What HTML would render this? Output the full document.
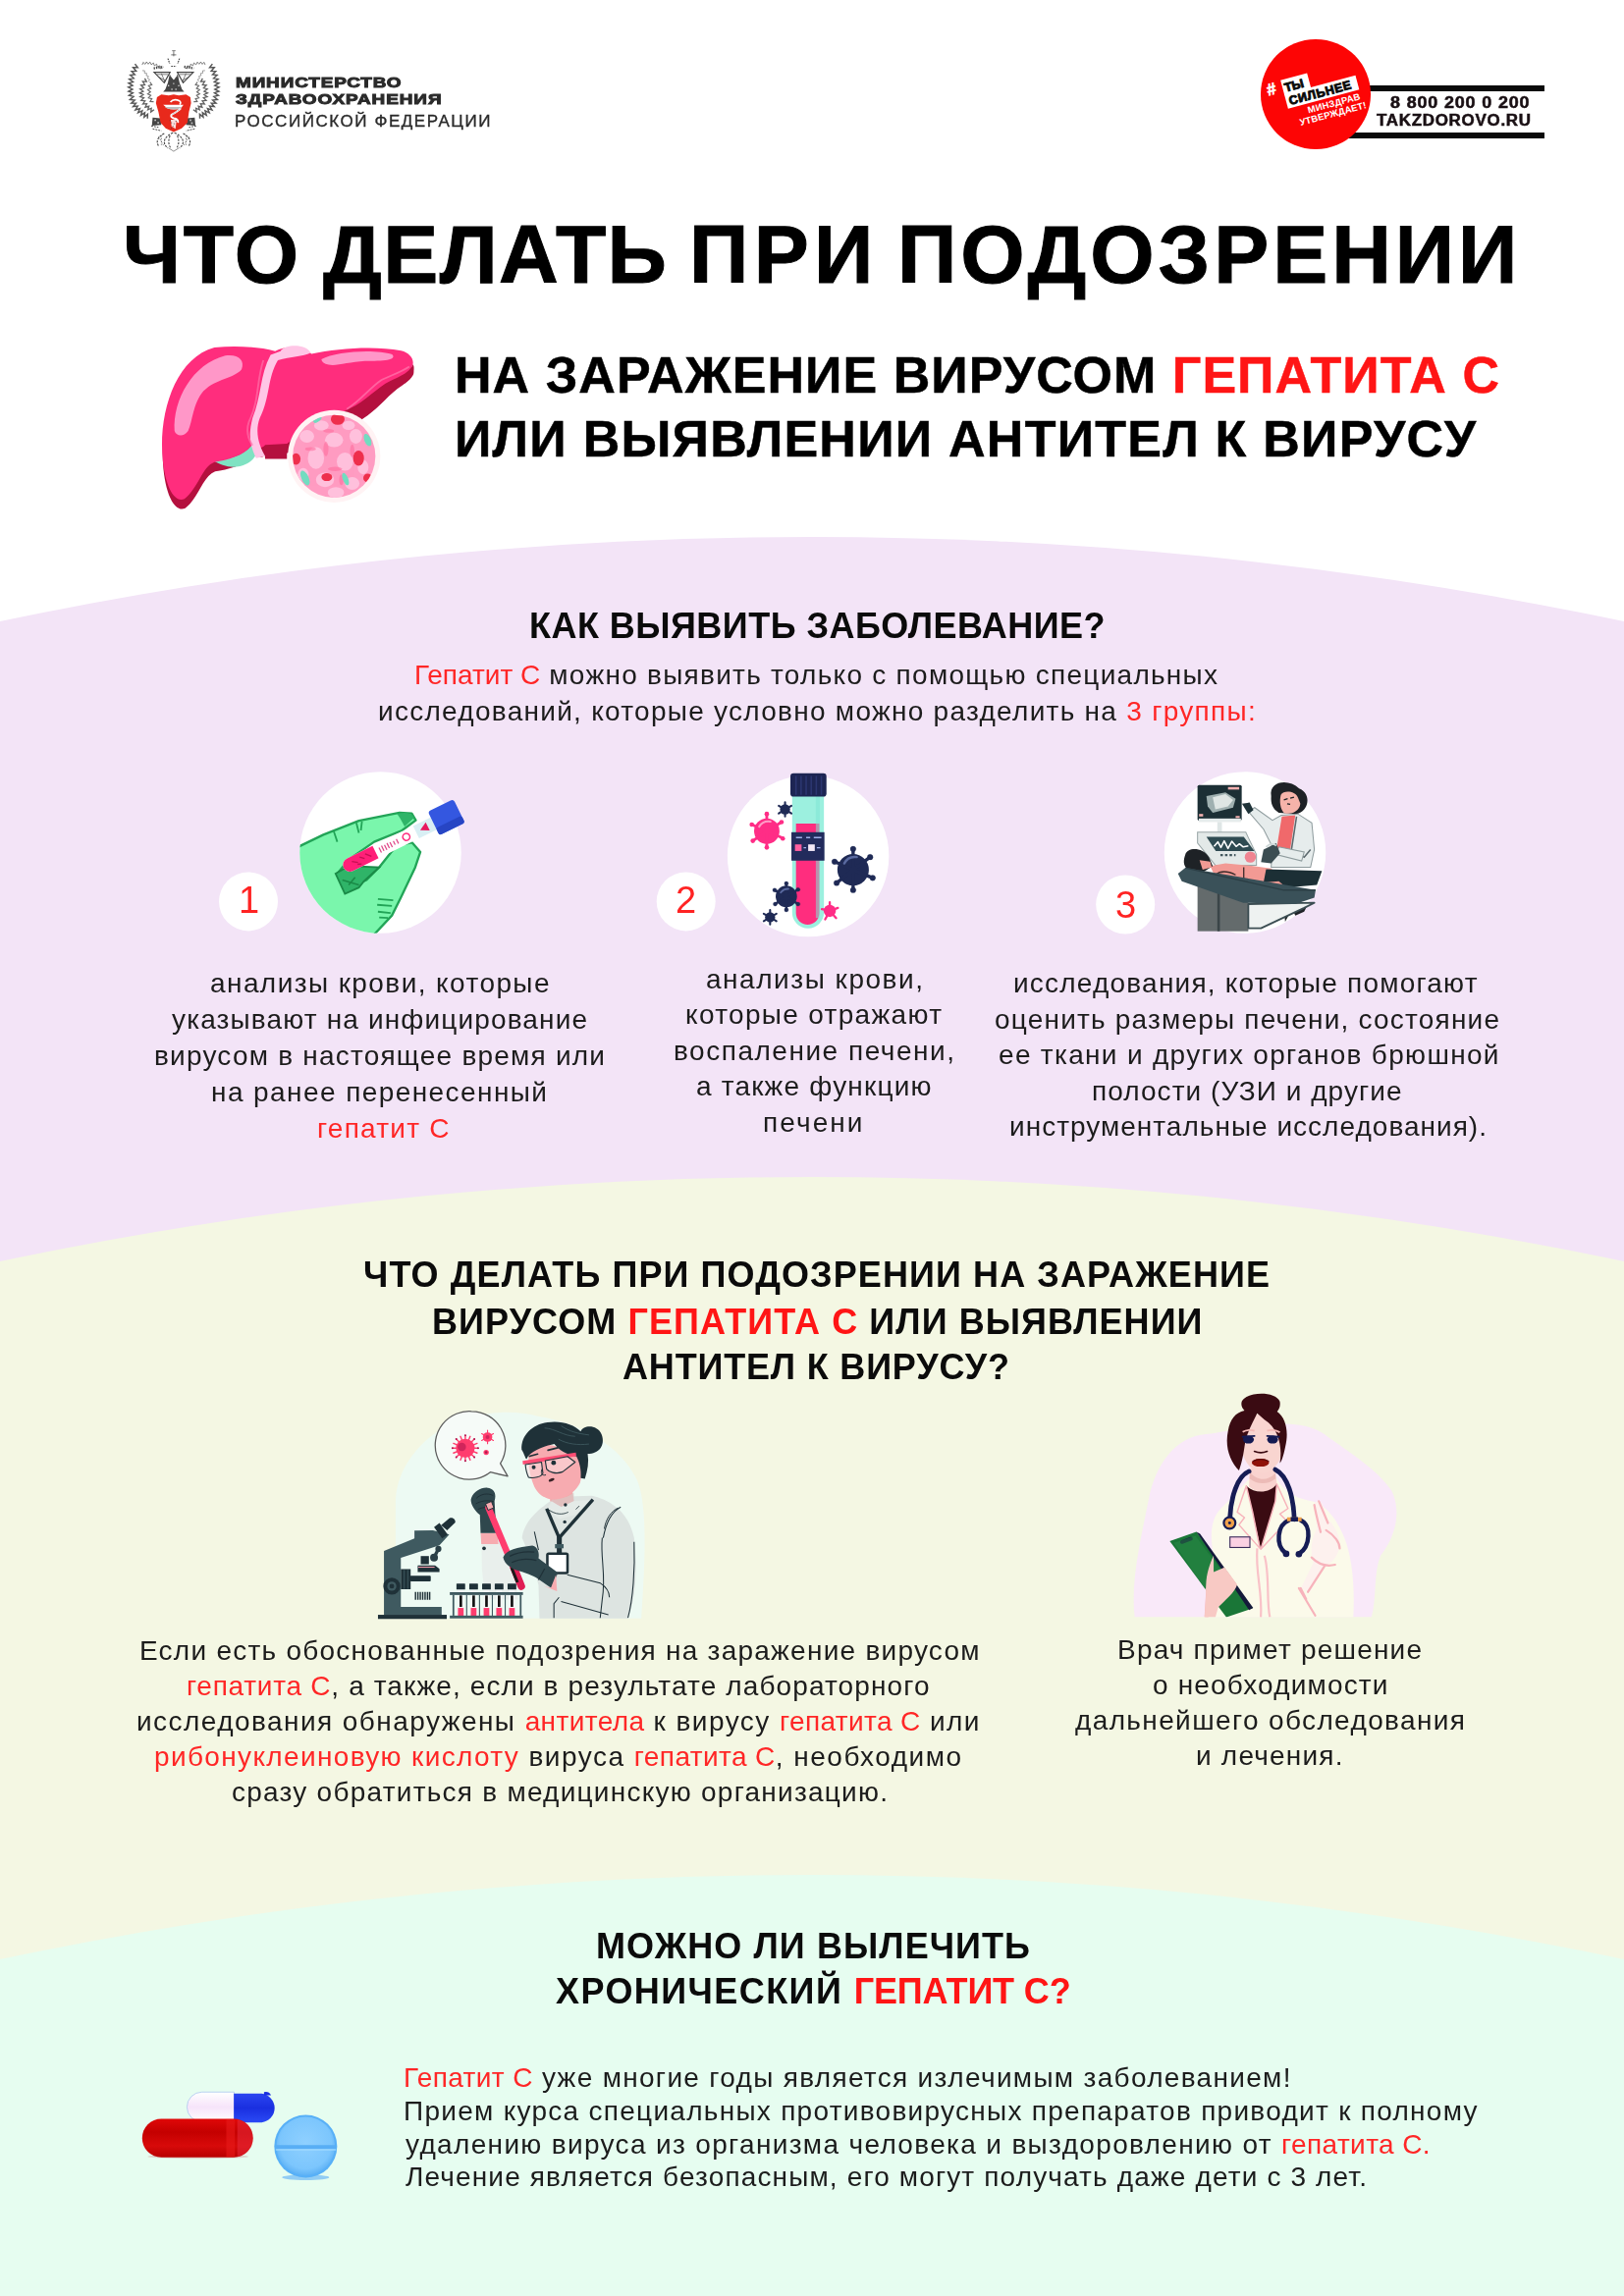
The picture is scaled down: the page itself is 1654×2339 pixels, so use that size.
<!DOCTYPE html>
<html lang="ru">
<head>
<meta charset="utf-8">
<title>Что делать при подозрении на заражение вирусом гепатита С</title>
<style>
html,body{margin:0;padding:0;background:#fff;}
body{width:1654px;height:2339px;position:relative;overflow:hidden;font-family:"Liberation Sans",sans-serif;color:#1c1c1c;}
.t{position:absolute;white-space:nowrap;line-height:1;transform-origin:0 50%;will-change:transform;}
.r{color:#ff2626;}
.t[style*=bold]{color:#0b0b0b;}
.t[style*=bold] .r{color:#ff1515;}
.b28 .r{letter-spacing:0.4px;}
svg{position:absolute;overflow:visible;}
.abs{position:absolute;}
</style>
</head>
<body>
<svg style="left:0;top:0" width="1654" height="2339" viewBox="0 0 1654 2339">
<circle cx="827" cy="4566" r="4019" fill="#f3e4f7"/>
<circle cx="827" cy="5218" r="4019" fill="#f4f7e3"/>
<circle cx="827" cy="5929" r="4019" fill="#e6fdf0"/>
</svg>

<svg style="left:120px;top:40px" width="120" height="125" viewBox="0 0 1624 1692">
<g fill="none" stroke="#454545" stroke-linejoin="miter">
<path d="M236 340 L274 390 L211 390 L252 439 L190 442 L234 488 L172 495 L219 538 L158 550 L209 588 L149 605 L203 638 L145 661 L202 689 L147 718 L207 740 L154 774 L216 790 L168 831 L232 840 L187 881 L250 882 L211 928 L274 921 L242 974 L303 956 L279 1013 L336 987 L319 1046 L372 1012 L363 1073 L411 1033 L409 1094" stroke-width="20" opacity="0.9"/>
<path d="M1304 340 L1266 390 L1329 390 L1288 439 L1350 442 L1306 488 L1368 495 L1321 538 L1382 550 L1331 588 L1391 605 L1337 638 L1395 661 L1338 689 L1393 718 L1333 740 L1386 774 L1324 790 L1372 831 L1308 840 L1353 881 L1290 882 L1329 928 L1266 921 L1298 974 L1237 956 L1261 1013 L1204 987 L1221 1046 L1168 1012 L1177 1073 L1129 1033 L1131 1094" stroke-width="20" opacity="0.9"/>
<path d="M371 539 L396 584 L343 582 L372 628 L320 633 L357 673 L307 686 L350 718 L302 740 L350 764 L307 793 L359 808 L322 844 L375 850 L345 892 L399 889 L378 937 L429 924 L414 973 L462 951 L456 1002 L500 971" stroke-width="18" opacity="0.85"/>
<path d="M1169 539 L1144 584 L1197 582 L1168 628 L1220 633 L1183 673 L1233 686 L1190 718 L1238 740 L1190 764 L1233 793 L1181 808 L1218 844 L1165 850 L1195 892 L1141 889 L1162 937 L1111 924 L1126 973 L1078 951 L1084 1002 L1040 971" stroke-width="18" opacity="0.85"/>
<path d="M442 589 L469 628 L424 640 L455 677 L413 695 L450 727 L412 753 L454 775 L423 808 L469 821 L446 859 L494 861" stroke-width="16" opacity="0.8"/>
<path d="M1098 589 L1071 628 L1116 640 L1085 677 L1127 695 L1090 727 L1128 753 L1086 775 L1117 808 L1071 821 L1094 859 L1046 861" stroke-width="16" opacity="0.8"/>
<path d="M336 353 L350 317 L378 344 L396 311 L419 343 L443 314 L461 350 L491 326 L504 364 L536 343 L544 381 L578 365 L584 405 L621 392" stroke-width="13" opacity="0.7"/>
<path d="M1204 353 L1190 317 L1162 344 L1144 311 L1121 343 L1097 314 L1079 350 L1049 326 L1036 364 L1004 343 L996 381 L962 365 L956 405 L919 392" stroke-width="13" opacity="0.7"/>
<path d="M337 432 L370 433 L368 466 L399 470 L392 501 L423 510 L411 540 L440 554 L422 582" stroke-width="11" opacity="0.6"/>
<path d="M1203 432 L1170 433 L1172 466 L1141 470 L1148 501 L1117 510 L1129 540 L1100 554 L1118 582" stroke-width="11" opacity="0.6"/>
  <path d="M500 455 L720 455 L640 600 Z M1040 455 L820 455 L900 600 Z" stroke-width="16"/>
  <path d="M540 485 L690 485 M850 485 L1000 485 M560 520 L650 565 M980 520 L890 565 M600 470 L650 590 M940 470 L890 590" stroke-width="9"/>
  <path d="M690 265 L715 335 M850 265 L825 335 M735 372 L805 372" stroke-width="16" stroke-dasharray="22 12"/>
  <path d="M770 165 L770 235 M748 158 L795 158 M735 215 L805 215" stroke-width="10"/>
  <path d="M495 400 L625 378 M915 378 L1045 400" stroke-width="30" stroke-dasharray="18 14"/>
  <path d="M760 1290 C640 1340 600 1430 690 1500 M780 1290 C900 1340 940 1430 850 1500 M720 1330 C690 1400 700 1460 730 1500 M820 1330 C850 1400 840 1460 810 1500 M640 1300 C560 1340 520 1400 560 1470 M900 1300 C980 1340 1020 1400 980 1470" stroke-width="15" stroke-dasharray="30 16"/>
  <path d="M560 1340 L640 1480 M980 1340 L900 1480 M600 1320 L600 1460 M940 1320 L940 1460" stroke-width="12" stroke-dasharray="22 18" opacity=".7"/>
  <path d="M700 1500 L770 1545 L840 1500" stroke-width="8"/>
  <path d="M460 1195 L560 1215 M1080 1195 L980 1215 M480 1235 L600 1262 M1060 1235 L940 1262" stroke-width="13" stroke-dasharray="26 14"/>
</g>
<path d="M625 725 L655 690 L690 600 L715 480 L770 560 L825 480 L850 600 L885 690 L915 725 Z" fill="#454545"/>
<path d="M722 500 L770 430 L818 500 L770 558 Z" fill="#fff"/>
<g fill="#fff"><circle cx="700" cy="640" r="9"/><circle cx="745" cy="690" r="9"/><circle cx="800" cy="690" r="9"/><circle cx="840" cy="640" r="9"/><circle cx="770" cy="610" r="9"/></g>
<path d="M480 1080 L590 1090 L600 1180 L470 1190 Z M1060 1080 L950 1090 L940 1180 L1070 1190 Z" fill="#454545"/>
<g fill="#fff" opacity=".7"><rect x="505" y="1105" width="22" height="22"/><rect x="545" y="1140" width="22" height="22"/><rect x="990" y="1105" width="22" height="22"/><rect x="1010" y="1145" width="22" height="22"/></g>
<path d="M540 800 L600 760 L700 775 L770 760 L840 775 L940 760 L1000 800 L1010 880 L980 1000 L960 1150 L880 1230 L770 1280 L660 1230 L590 1150 L560 1000 L525 880 Z" fill="#e8291c"/>
<path d="M625 905 L905 905 L870 950 Q770 985 680 950 Z" fill="#fff"/>
<path d="M645 935 L885 935 L868 952 Q770 985 674 952 Z" fill="#bdbdbd"/>
<path d="M725 865 Q770 810 850 850 Q880 880 850 900" fill="none" stroke="#fff" stroke-width="22"/>
<path d="M860 960 Q800 1010 740 1040 Q720 1075 770 1090 Q830 1100 830 1140" fill="none" stroke="#fff" stroke-width="26" stroke-linecap="round"/>
<path d="M860 960 Q800 1010 740 1040" fill="none" stroke="#454545" stroke-width="7" stroke-dasharray="16 12"/>
<path d="M730 1110 L810 1110 L795 1235 L740 1200 Z" fill="#fff" opacity=".85"/>
<g fill="#454545"><circle cx="740" cy="1150" r="7"/><circle cx="775" cy="1165" r="7"/><circle cx="760" cy="1200" r="7"/><circle cx="720" cy="1120" r="7"/><circle cx="800" cy="1130" r="7"/><circle cx="740" cy="1225" r="7"/></g>
</svg>
<div class="abs" style="left:1340px;top:87px;width:233px;height:6px;background:#0a0a0a"></div>
<div class="abs" style="left:1340px;top:135px;width:233px;height:6px;background:#0a0a0a"></div>
<div class="abs" style="left:1284.2px;top:40.1px;width:111.6px;height:111.6px;border-radius:50%;background:#fd0505"></div>
<div class="abs" style="left:1284.2px;top:40.1px;width:111.6px;height:111.6px;transform:rotate(-15deg);font-weight:bold;line-height:1;white-space:nowrap">
  <div class="abs" style="left:9px;top:31px;font-size:17px;color:#fff;-webkit-text-stroke:0.6px #fff">#</div>
  <div class="abs" style="left:25px;top:33.4px;width:28px;height:16px;background:#fff"></div>
  <div class="abs" style="left:25px;top:48.4px;width:75px;height:15px;background:#fff"></div>
  <div class="abs" style="left:27px;top:35.5px;font-size:12.5px;color:#0a0a0a;letter-spacing:-0.2px;-webkit-text-stroke:0.9px #0a0a0a">ТЫ</div>
  <div class="abs" style="left:28px;top:49.8px;font-size:12.5px;color:#0a0a0a;letter-spacing:0.6px;-webkit-text-stroke:0.9px #0a0a0a">СИЛЬНЕЕ</div>
  <div class="abs" style="left:44px;top:64.5px;font-size:9.5px;color:#fff;letter-spacing:0.2px">МИНЗДРАВ</div>
  <div class="abs" style="left:33px;top:75px;font-size:9.5px;color:#fff;letter-spacing:0.1px">УТВЕРЖДАЕТ!</div>
</div>

<svg style="left:150px;top:330px" width="300" height="200" viewBox="0 0 1624 1083">
<defs>
<path id="lv" d="M370 130 C500 118 620 128 705 150 C760 120 860 118 905 165 C1050 135 1250 118 1400 148 C1450 160 1475 200 1462 230 C1440 270 1400 285 1370 300 C1290 330 1230 400 1150 450 C1050 505 900 560 770 660 L650 668 C630 690 610 690 585 650 C560 720 450 750 370 762 C300 790 285 900 205 965 C150 990 100 900 85 750 C60 500 150 190 370 130 Z"/>
<clipPath id="lvc"><circle cx="1030" cy="730" r="228"/></clipPath>
</defs>
<use href="#lv" transform="translate(4,52)" fill="#b4103e"/>
<path d="M640 650 L770 650 L770 745 L650 745 Z" fill="#b4103e"/>
<path d="M1466 222 C1482 262 1455 305 1405 340 C1335 385 1285 455 1215 505 L1150 550 L1090 500 L1150 450 C1230 400 1290 330 1370 300 C1400 285 1440 270 1462 230Z" fill="#b4103e"/>
<path d="M360 750 C440 810 560 800 600 720 L590 640 C560 720 450 750 360 750Z" fill="#7fe2c2"/>
<use href="#lv" fill="#ff2d7d"/>
<path d="M150 590 C140 420 250 220 430 175 C500 165 540 200 520 250 C480 300 380 300 310 370 C250 440 250 540 225 590 C200 625 160 620 150 590Z" fill="#ff97c8"/>
<path d="M960 195 C1040 150 1260 138 1350 168 C1380 200 1300 205 1200 205 C1110 210 1040 235 1000 225 C975 220 962 210 960 195Z" fill="#ff97c8"/>
<path d="M1100 470 C1180 420 1230 350 1290 310 C1340 285 1400 265 1445 235" fill="none" stroke="#ff6fa8" stroke-width="10" opacity=".8"/>
<path d="M735 150 C760 110 880 110 900 160 C860 180 790 180 720 200 C660 300 680 400 620 520 C590 600 620 680 650 730 L600 740 C560 660 560 600 580 520 C630 400 620 280 680 170 Z" fill="#ffc6e6"/>
<path d="M640 200 C600 320 620 420 560 540 C540 600 560 640 580 670" fill="none" stroke="#ff6fa8" stroke-width="10" opacity=".7"/>
<circle cx="1030" cy="730" r="255" fill="#fff3f4"/>
<circle cx="1030" cy="730" r="228" fill="#ff9cc2"/>
<g clip-path="url(#lvc)">
<g fill="#ffc0dc">
<ellipse cx="930" cy="740" rx="45" ry="60"/><ellipse cx="1030" cy="640" rx="50" ry="40"/><ellipse cx="1090" cy="760" rx="45" ry="50"/><ellipse cx="980" cy="860" rx="50" ry="40"/><ellipse cx="1130" cy="880" rx="40" ry="35"/><ellipse cx="880" cy="620" rx="40" ry="35"/><ellipse cx="1150" cy="620" rx="35" ry="40"/><ellipse cx="1040" cy="930" rx="45" ry="30"/><ellipse cx="1190" cy="790" rx="30" ry="40"/><ellipse cx="960" cy="560" rx="40" ry="28"/><ellipse cx="860" cy="830" rx="30" ry="35"/><ellipse cx="1110" cy="560" rx="35" ry="25"/>
</g>
<g fill="#ff6a9c" opacity=".55">
<ellipse cx="985" cy="690" rx="14" ry="40"/><ellipse cx="1035" cy="800" rx="40" ry="12"/><ellipse cx="1130" cy="700" rx="12" ry="35"/><ellipse cx="900" cy="690" rx="30" ry="10"/><ellipse cx="1070" cy="860" rx="12" ry="30"/><ellipse cx="1000" cy="590" rx="30" ry="10"/>
</g>
<g fill="#ee2f4c">
<ellipse cx="1050" cy="525" rx="38" ry="32"/><ellipse cx="1165" cy="740" rx="30" ry="42"/><ellipse cx="820" cy="745" rx="25" ry="32"/><ellipse cx="990" cy="845" rx="30" ry="22"/><ellipse cx="1215" cy="850" rx="24" ry="24"/>
</g>
<g fill="#72dcc0">
<ellipse cx="938" cy="527" rx="26" ry="13" transform="rotate(-35 938 527)"/><ellipse cx="1215" cy="640" rx="18" ry="36" transform="rotate(-22 1215 640)"/><ellipse cx="870" cy="850" rx="20" ry="44" transform="rotate(-25 870 850)"/><ellipse cx="1093" cy="856" rx="15" ry="36" transform="rotate(-22 1093 856)"/>
</g>
</g>
</svg>

<!-- icon 1 -->
<svg style="left:200px;top:780px" width="420" height="200" viewBox="0 0 1624 773">
<defs><clipPath id="c1"><circle cx="725" cy="342" r="318"/></clipPath></defs>
<circle cx="725" cy="342" r="318" fill="#fff"/>
<circle cx="205" cy="535" r="116" fill="#fff"/>
<g clip-path="url(#c1)">
<path d="M380 330 L500 272 L640 217 L800 185 L848 188 L864 215 L810 255 L700 300 L600 370 L555 425 L600 480 L670 450 L720 400 L790 312 L850 303 L882 340 L862 400 L805 520 L770 590 L700 665 L380 720 Z" fill="#7af6ac" stroke="#22a457" stroke-width="9" stroke-linejoin="round"/>
<path d="M548 425 L600 395 L720 400 L660 455 L640 480 L585 505 Z" fill="#2fb468" stroke="#1a8a47" stroke-width="7"/>
<path d="M575 450 L640 470 M600 470 L625 440" stroke="#1a8a47" stroke-width="6" fill="none"/>
<path d="M540 255 L555 300 M630 225 L640 265 M652 220 L648 255" stroke="#22a457" stroke-width="7" fill="none"/>
<path d="M790 190 Q840 175 858 205 L820 240 Q800 200 790 190Z" fill="#2fb468"/>
<path d="M715 525 L775 530 M712 548 L770 552 M715 575 L765 580 M720 598 L755 600" stroke="#22a457" stroke-width="7" fill="none"/>
</g>
<g transform="translate(580,402) rotate(-26.2)">
<rect x="0" y="-27" width="410" height="54" rx="27" fill="#fff"/>
<rect x="318" y="-27" width="90" height="54" fill="#d9eff4"/>
<path d="M0 0 A27 27 0 0 1 27 -27 L140 -27 L140 27 L27 27 A27 27 0 0 1 0 0Z" fill="#ff1f78"/>
<path d="M40 -8 L60 6 M75 -10 L90 4 M100 -12 L118 8 M55 12 L70 18" stroke="#c40f52" stroke-width="5"/>
<path d="M160 -10 L160 12 M172 -12 L172 10 M184 -10 L184 12 M196 -12 L196 10 M208 -10 L208 12 M222 -8 L222 8 M236 -10 L236 10" stroke="#e04a8a" stroke-width="5"/>
<circle cx="275" cy="0" r="14" fill="none" stroke="#ff2d7e" stroke-width="6"/>
<path d="M335 -18 L368 0 L335 18 Z" fill="#e8195f" transform="rotate(180 352 0)"/>
<rect x="395" y="-52" width="112" height="104" rx="12" fill="#3457e0"/>
<rect x="395" y="20" width="112" height="32" rx="10" fill="#2745c4"/>
</g>
</svg>
<!-- icon 2 -->
<svg style="left:640px;top:780px" width="420" height="200" viewBox="0 0 1624 773">
<circle cx="708" cy="356" r="318" fill="#fff"/>
<circle cx="227" cy="535" r="116" fill="#fff"/>
<path d="M645 110 L770 110 L770 578 A62.5 62.5 0 0 1 645 578 Z" fill="#9cf0df"/>
<path d="M660 228 L752 228 L752 580 A46 46 0 0 1 660 580 Z" fill="#ff2d7e"/>
<rect x="738" y="120" width="16" height="480" fill="#7fe6d4" opacity=".55"/>
<rect x="638" y="30" width="142" height="92" rx="12" fill="#1d2553"/>
<path d="M660 40 V115 M680 40 V115 M700 40 V115 M720 40 V115 M740 40 V115 M760 40 V115" stroke="#2c3670" stroke-width="6"/>
<rect x="642" y="262" width="130" height="112" fill="#222b5c"/>
<rect x="656" y="310" width="26" height="26" fill="#ff5fa0"/><rect x="708" y="310" width="26" height="26" fill="#f3e9f7"/>
<path d="M660 283 H684 M700 283 H716 M730 283 H760 M690 323 H700 M742 323 H756" stroke="#9fb0e8" stroke-width="5"/>
<g id="vr">
<g fill="#ff2d86">
<circle cx="545" cy="258" r="50"/>
<g stroke="#ff2d86" stroke-width="11" stroke-linecap="round">
<path d="M545 258 L545 190 M545 258 L603 222 M545 258 L608 285 M545 258 L545 322 M545 258 L490 296 M545 258 L486 232"/></g>
<circle cx="545" cy="190" r="9"/><circle cx="603" cy="222" r="9"/><circle cx="608" cy="287" r="9"/><circle cx="545" cy="322" r="9"/><circle cx="490" cy="296" r="9"/><circle cx="486" cy="232" r="9"/>
</g>
<path d="M515 240 Q530 215 560 220" stroke="#ff9cc6" stroke-width="8" fill="none" stroke-linecap="round"/>
</g>
<g fill="#ff2d86"><circle cx="793" cy="572" r="24"/><g stroke="#ff2d86" stroke-width="9" stroke-linecap="round"><path d="M793 572 L793 538 M793 572 L825 560 M793 572 L818 600 M793 572 L775 605 M793 572 L762 565"/></g></g>
<g fill="#1f2a55" stroke="#1f2a55" stroke-linecap="round">
<circle cx="885" cy="410" r="62" stroke="none"/>
<path d="M885 410 L885 328 M885 410 L952 360 M885 410 L962 442 M885 410 L885 490 M885 410 L820 462 M885 410 L812 378" stroke-width="13"/>
<circle cx="885" cy="328" r="11"/><circle cx="952" cy="360" r="11"/><circle cx="962" cy="442" r="11"/><circle cx="885" cy="490" r="11"/><circle cx="820" cy="462" r="11"/><circle cx="812" cy="378" r="11"/>
<circle cx="622" cy="515" r="42" stroke="none"/>
<path d="M622 515 L622 462 M622 515 L668 488 M622 515 L668 545 M622 515 L622 568 M622 515 L578 545 M622 515 L576 490" stroke-width="10"/>
<circle cx="622" cy="464" r="8"/><circle cx="668" cy="488" r="8"/><circle cx="668" cy="545" r="8"/><circle cx="622" cy="568" r="8"/><circle cx="578" cy="545" r="8"/><circle cx="576" cy="490" r="8"/>
<circle cx="617" cy="172" r="20" stroke="none"/>
<path d="M617 172 L617 144 M617 172 L642 158 M617 172 L642 188 M617 172 L617 200 M617 172 L592 188 M617 172 L592 158" stroke-width="8"/>
<circle cx="558" cy="597" r="20" stroke="none"/>
<path d="M558 597 L558 568 M558 597 L583 583 M558 597 L583 612 M558 597 L558 625 M558 597 L533 612 M558 597 L533 583" stroke-width="8"/>
</g>
<path d="M850 385 Q865 355 900 360" stroke="#5a6aa0" stroke-width="9" fill="none" stroke-linecap="round"/>
<path d="M600 500 Q610 485 630 485" stroke="#5a6aa0" stroke-width="7" fill="none" stroke-linecap="round"/>
</svg>
<!-- icon 3 -->
<svg style="left:1080px;top:780px" width="420" height="200" viewBox="0 0 1624 773">
<circle cx="727" cy="342" r="318" fill="#fff"/>
<circle cx="256" cy="547" r="116" fill="#fff"/>
<!-- doctor -->
<path d="M830 120 C820 60 900 50 940 90 C990 110 980 180 930 190 L860 185 C835 170 828 150 830 120Z" fill="#1e2226"/>
<path d="M868 115 C880 95 925 100 935 125 L945 150 C940 185 900 195 880 185 C865 170 862 140 868 115Z" fill="#f6b3aa"/>
<path d="M880 135 L895 130 M905 128 L920 124 M893 150 L905 152" stroke="#1e2226" stroke-width="5"/>
<path d="M870 195 L935 190 L990 225 L1000 330 L985 400 L830 400 L835 320 L800 250 L740 180 L765 165 L835 215 Z" fill="#e6ecec" stroke="#8f9c9e" stroke-width="4"/>
<path d="M872 200 L925 195 L905 330 L850 335 Z" fill="#f0696b"/>
<path d="M930 200 L910 330 L960 360 L985 330" fill="none" stroke="#5d6a6e" stroke-width="6"/>
<path d="M715 150 L745 145 L760 175 L740 190 Z" fill="#1e3238"/>
<path d="M860 320 L960 340 L950 375 L850 350 Z" fill="#e6ecec" stroke="#8f9c9e" stroke-width="4"/>
<path d="M800 330 L850 305 L865 345 L830 385 L790 380 Z" fill="#3b4d52"/>
<path d="M810 320 Q830 300 850 315" fill="none" stroke="#cfd8d8" stroke-width="7"/>
<path d="M905 545 L975 545 L960 575 L925 590 Z" fill="#1e2226"/>
<path d="M880 560 L915 560 L885 615 Z" fill="#1e2226"/>
<!-- monitor -->
<rect x="540" y="76" width="174" height="140" rx="6" fill="#1c2f35"/>
<path d="M575 120 L650 105 L690 130 L680 165 L600 185 L580 160 Z" fill="#9fb0b0"/>
<path d="M600 125 L650 112 L680 135 L660 160 L610 172 Z" fill="#dfe6e4"/>
<rect x="660" y="84" width="44" height="10" fill="#f2b0b0"/><rect x="546" y="190" width="16" height="10" fill="#f2b0b0"/><rect x="690" y="198" width="16" height="8" fill="#f2b0b0"/>
<rect x="545" y="208" width="166" height="14" fill="#e6ecec"/>
<rect x="618" y="222" width="18" height="40" fill="#dfe6e6"/>
<!-- console -->
<path d="M540 262 L730 262 L772 350 L772 392 L610 392 L540 305 Z" fill="#e3e9e8" stroke="#9aa7a8" stroke-width="4"/>
<path d="M575 280 L722 280 L764 336 L612 336 Z" fill="#2f4b52"/>
<path d="M605 318 L620 300 L632 322 L645 296 L660 326 L675 298 L692 318 L705 308 L720 320 L740 316" fill="none" stroke="#fff" stroke-width="6" stroke-linejoin="round"/>
<path d="M630 352 H690" stroke="#43585e" stroke-width="9" stroke-dasharray="10 8"/>
<circle cx="748" cy="360" r="22" fill="#f36a7a" opacity=".8"/>
<!-- bed base -->
<rect x="540" y="470" width="200" height="182" fill="#646b6c"/>
<rect x="618" y="480" width="10" height="172" fill="#3b4548"/>
<path d="M740 545 L1000 540 L960 560 L790 640 L740 640 Z" fill="#eef2f1" stroke="#3b4d52" stroke-width="7" stroke-linejoin="round"/>
<!-- patient -->
<path d="M590 395 L650 385 L760 395 L830 405 L880 450 L900 480 L720 470 L610 440 Z" fill="#f29a94"/>
<path d="M610 430 Q640 405 690 430 M722 400 L722 445" fill="none" stroke="#3b2a2a" stroke-width="5"/>
<path d="M810 408 L1030 415 L1010 470 L890 480 L860 455 L800 460 Z" fill="#1c2f35"/>
<path d="M492 350 C500 320 560 320 585 360 L600 395 L560 420 L505 410 C480 395 485 370 492 350Z" fill="#1e2226"/>
<path d="M548 372 L590 378 L596 400 L560 410 Z" fill="#f29a94"/>
<!-- bed slab -->
<path d="M463 425 L492 402 L1005 490 L1000 520 L925 545 L720 540 L478 455 Z" fill="#3a5159"/>
<path d="M492 402 L560 418 L880 490 L1005 490" fill="none" stroke="#2b3e45" stroke-width="5"/>
</svg>
<div class="t" style="left:242.5px;top:898px;font-size:38px;color:#ff2323">1</div>
<div class="t" style="left:687.5px;top:897.5px;font-size:38px;color:#ff2323">2</div>
<div class="t" style="left:1136px;top:903px;font-size:38px;color:#ff2323">3</div>

<svg style="left:0;top:0" width="1654" height="2339" viewBox="0 0 1654 2339">
<!-- coords: zoom1 = (360,1420) scale 4.776 -->
<g transform="translate(360,1420) scale(0.20938)">
  <path d="M205 1092 L205 520 C210 380 300 250 430 170 C560 90 760 70 900 110 C1100 140 1300 250 1380 420 C1430 540 1420 800 1400 1092 Z" fill="#edfaf3"/>
  <!-- raised arm sleeve (white part) -->
  <path d="M622 690 L700 690 L745 800 L790 905 L800 1000 L640 1000 L625 850 Z" fill="#e9efec"/>
  <!-- coat body -->
  <path d="M905 1092 L900 930 L870 820 L820 700 C830 620 900 560 960 520 L1000 500 L1160 495 C1260 520 1340 580 1365 700 C1380 820 1380 980 1335 1092 Z" fill="#dde4e1"/>
  <path d="M1215 700 C1230 620 1260 570 1300 550 M1210 700 C1200 800 1230 880 1210 1000 L1200 1090 M1365 720 C1370 850 1360 1000 1335 1090" fill="none" stroke="#1f3138" stroke-width="5"/>
  <path d="M880 670 L900 760 M975 1090 L975 1020 L1000 990 M1010 1010 L1240 1075 M1040 880 L1200 920 C1230 940 1245 960 1245 990" fill="none" stroke="#1f3138" stroke-width="5"/>
</g>
<!-- zoom2 = (430,1430) scale 7.061 -->
<g transform="translate(430,1430) scale(0.14162)">
  <!-- speech bubble -->
  <path d="M355 55 A245 245 0 1 0 490 492 L615 522 L562 430 A245 245 0 0 0 355 55Z" fill="#f6fbf8" stroke="#5c5c5c" stroke-width="9" stroke-linejoin="round"/>
  <g fill="#ff3d6e">
    <circle cx="310" cy="320" r="68"/><circle cx="470" cy="240" r="34"/><circle cx="460" cy="350" r="19"/>
    <g stroke="#ff3d6e" stroke-width="10" stroke-linecap="round">
      <path d="M310 320 L310 228 M310 320 L375 255 M310 320 L402 320 M310 320 L375 385 M310 320 L310 412 M310 320 L245 385 M310 320 L218 320 M310 320 L245 255 M310 320 L345 235 M310 320 L395 285 M310 320 L395 355 M310 320 L345 405 M310 320 L275 405 M310 320 L225 355 M310 320 L225 285 M310 320 L275 235"/>
      <path d="M470 240 L470 192 M470 240 L512 216 M470 240 L512 264 M470 240 L470 288 M470 240 L428 264 M470 240 L428 216" stroke-width="8"/>
    </g>
  </g>
  <g fill="#b0164e"><circle cx="310" cy="228" r="7"/><circle cx="375" cy="255" r="7"/><circle cx="402" cy="320" r="7"/><circle cx="375" cy="385" r="7"/><circle cx="310" cy="412" r="7"/><circle cx="245" cy="385" r="7"/><circle cx="218" cy="320" r="7"/><circle cx="245" cy="255" r="7"/><circle cx="285" cy="310" r="30" opacity=".6"/><circle cx="460" cy="350" r="9"/><circle cx="470" cy="240" r="14" opacity=".6"/></g>
  <!-- neck + face -->
  <path d="M915 600 L1075 580 L1090 700 L1000 740 L920 700 Z" fill="#f3a9ab"/>
  <path d="M765 345 C800 290 900 280 1000 320 L1120 370 C1160 420 1150 520 1135 570 C1100 640 1020 690 950 690 C880 690 820 640 800 580 C775 520 760 420 765 345Z" fill="#f7abb0"/>
  <path d="M930 690 C990 690 1050 670 1090 640 L1090 700 L1000 740 L925 705Z" fill="#d9c9c6" opacity=".7"/>
  <!-- hair -->
  <path d="M715 330 C710 230 790 150 900 135 C1000 120 1090 150 1140 200 C1160 150 1260 150 1290 220 C1320 300 1270 360 1190 360 C1200 420 1190 480 1170 540 L1140 535 C1145 470 1130 420 1110 380 C1040 370 980 330 950 290 C900 300 800 330 760 380 C745 420 745 380 715 330Z" fill="#1f3138"/>
  <path d="M880 175 C960 180 1010 230 1100 235 M1000 160 C1060 200 1120 215 1200 225 M980 255 C1040 290 1120 300 1200 290" fill="none" stroke="#3f5a60" stroke-width="6"/>
  <!-- glasses -->
  <path d="M722 412 L1105 352 L1108 378 L725 438Z" fill="#ff4d74"/>
  <path d="M742 438 L858 420 L868 500 C860 525 800 540 765 530 C750 500 745 470 742 438Z M885 410 L1045 380 L1100 420 L1010 490 C960 510 910 490 895 470Z" fill="#fde0e2" fill-opacity=".55" stroke="#1f3138" stroke-width="8" stroke-linejoin="round"/>
  <circle cx="802" cy="457" r="14" fill="#1f3138"/><circle cx="945" cy="425" r="17" fill="#1f3138"/>
  <path d="M772 378 L830 362 M905 335 L975 317" stroke="#1f3138" stroke-width="12" stroke-linecap="round"/>
  <path d="M862 470 C850 500 860 520 890 512" fill="none" stroke="#1f3138" stroke-width="7"/>
  <ellipse cx="930" cy="548" rx="22" ry="11" fill="#3a2226" transform="rotate(-20 930 548)"/>
  <!-- collar + lanyard -->
  <path d="M930 700 L1000 745 L1090 700 L1230 690 L1100 800 L985 830 L895 760Z" fill="#e4eae7"/>
  <path d="M905 760 C960 800 1010 800 1050 780 M1105 760 L1130 735" fill="none" stroke="#1f3138" stroke-width="6"/>
  <path d="M895 755 L985 965 L1228 690" fill="none" stroke="#1f3138" stroke-width="24" stroke-linejoin="round"/>
  <rect x="968" y="955" width="36" height="120" fill="#1f3138"/>
  <rect x="955" y="1010" width="62" height="30" fill="#3f5a60"/>
  <rect x="900" y="1078" width="145" height="140" rx="10" fill="#fff" stroke="#1f3138" stroke-width="18"/>
  <circle cx="1030" cy="727" r="12" fill="#1f3138"/><circle cx="1025" cy="850" r="12" fill="#1f3138"/>
  <path d="M1310 900 C1320 830 1360 770 1410 750" fill="none" stroke="#1f3138" stroke-width="7"/>
  <!-- raised hand -->
  <path d="M420 930 L540 930 L548 1010 L425 1010Z" fill="#f7abb0"/>
  <circle cx="445" cy="1040" r="13" fill="#1f3138"/>
  <path d="M350 690 C360 640 420 600 470 605 C520 610 535 650 520 700 L525 790 L540 930 L420 930 L415 800 C380 770 350 730 350 690Z" fill="#2f474d"/>
  <path d="M390 680 C420 650 470 640 510 660 M385 720 C420 700 470 690 515 705 M400 760 C430 745 470 740 510 750" fill="none" stroke="#1f3138" stroke-width="7"/>
</g>
<!-- red tube (page coords) -->
<path d="M497.5 1536 L531 1616" stroke="#ff3d6e" stroke-width="6.5" stroke-linecap="round"/>
<path d="M523 1596 L531 1616" stroke="#e01f55" stroke-width="7.5" stroke-linecap="round"/>
<path d="M521 1597 L527 1612" stroke="#1a1a1a" stroke-width="3"/>
<path d="M494.5 1532 L500.5 1529.5 L503 1536 L497 1538.5Z" fill="#f7abb0" stroke="#1f3138" stroke-width="1"/>
<g transform="translate(360,1420) scale(0.20938)">
  <!-- lower gloved hand -->
  <path d="M728 795 C740 760 800 745 870 738 C900 745 905 780 900 800 L995 870 L962 945 L905 905 C870 880 830 870 800 860 C770 850 735 830 728 795Z" fill="#2f474d"/>
  <path d="M760 790 C800 770 840 765 880 770 M770 820 C810 800 850 800 890 810 M930 850 L900 905" fill="none" stroke="#1f3138" stroke-width="6"/>
  <path d="M925 935 L990 960 L985 880 L960 945Z" fill="#f7abb0"/>
</g>
<!-- zoom3 = (370,1530) scale 9.022 : microscope + rack -->
<g transform="translate(370,1530) scale(0.11084)">
  <path d="M190 1042 L190 450 L470 335 L470 265 L640 262 L790 300 L700 400 L345 515 L345 965 L720 965 L720 1042Z" fill="#3f5a60"/>
  <rect x="135" y="1038" width="632" height="38" fill="#1f3138"/>
  <path d="M650 232 L700 195 L775 300 L725 335Z" fill="#1f3138"/>
  <path d="M715 215 L790 150 C820 135 850 160 845 190 L770 262Z" fill="#1f3138"/>
  <circle cx="690" cy="432" r="28" fill="#2b4047"/><circle cx="650" cy="512" r="36" fill="#2b4047"/>
  <path d="M690 432 L650 512" stroke="#2b4047" stroke-width="30"/>
  <rect x="528" y="498" width="75" height="75" fill="#1f3138"/>
  <path d="M500 585 L660 585 L700 615 L700 645 L500 645Z" fill="#1f3138"/>
  <rect x="505" y="596" width="150" height="9" fill="#ff9fb0"/>
  <rect x="345" y="618" width="90" height="185" fill="#1f3138"/>
  <rect x="430" y="678" width="190" height="52" rx="8" fill="#1f3138"/>
  <rect x="372" y="625" width="8" height="175" fill="#3f5a60"/><rect x="405" y="625" width="8" height="175" fill="#3f5a60"/>
  <circle cx="262" cy="775" r="78" fill="#1f3138"/><circle cx="262" cy="775" r="42" fill="#3f5a60"/><circle cx="262" cy="775" r="22" fill="#1f3138"/>
  <path d="M480 828 V900 M502 828 V900 M524 828 V900 M546 828 V900 M568 828 V900 M590 828 V900 M610 828 V900" stroke="#1f3138" stroke-width="13"/>
  <!-- rack -->
  <g id="tb">
    <rect x="870" y="805" width="52" height="240" fill="#f3f8f6"/>
    <rect x="870" y="975" width="52" height="72" fill="#ff3d6e"/>
    <rect x="884" y="860" width="24" height="105" fill="#111"/>
    <rect x="856" y="750" width="80" height="56" rx="5" fill="#1f3138"/>
  </g>
  <use href="#tb" x="118"/><use href="#tb" x="236"/><use href="#tb" x="352"/><use href="#tb" x="470"/>
  <rect x="795" y="830" width="672" height="26" fill="#3f5a60"/>
  <rect x="795" y="1045" width="672" height="26" fill="#3f5a60"/>
  <rect x="820" y="856" width="16" height="190" fill="#3f5a60"/><rect x="1438" y="856" width="16" height="190" fill="#3f5a60"/>
  <path d="M950 856 V1046 M1068 856 V1046 M1186 856 V1046 M1304 856 V1046" stroke="#3f5a60" stroke-width="10"/>
</g>
</svg>

<svg style="left:1140px;top:1400px" width="300" height="260" viewBox="0 0 1624 1407">
<defs><clipPath id="dc"><rect x="0" y="0" width="1624" height="1340"/></clipPath></defs>
<g clip-path="url(#dc)">
<!-- background blob -->
<path d="M85 1340 C60 1150 120 900 160 700 C190 520 300 340 480 330 C560 320 640 300 760 290 C900 260 1040 270 1130 330 C1250 420 1420 520 1500 640 C1560 760 1520 900 1440 1000 C1400 1100 1420 1240 1390 1340 Z" fill="#f9e9f9"/>
<!-- coat -->
<path d="M470 1340 C480 1200 500 1100 520 1000 C500 900 500 800 560 740 C620 680 680 620 730 560 L860 560 C900 640 960 680 1060 700 C1140 720 1200 800 1240 900 C1280 1000 1300 1150 1290 1340 Z" fill="#fbfaea"/>
<!-- raised hand / sleeve pink lines -->
<path d="M1075 720 C1080 690 1110 690 1120 720 L1150 800 C1190 840 1210 880 1215 930 C1215 990 1180 1040 1130 1060 L1050 1200 L1000 1180 L1070 1040 C1050 980 1060 900 1090 850Z" fill="#fdf1ee"/>
<path d="M1075 720 C1085 780 1100 830 1110 870 M1100 700 L1150 820 M1140 860 C1190 890 1215 930 1215 960 M1060 1010 C1100 1050 1150 1060 1190 1050 M1130 1060 L1040 1200 M990 1180 L1080 1330 M1000 1180 L1030 1240" fill="none" stroke="#f7b3bb" stroke-width="12" stroke-linecap="round"/>
<path d="M760 960 C750 1100 790 1200 780 1340 M800 1000 C830 1100 810 1250 830 1340" fill="none" stroke="#f9c2c8" stroke-width="12"/>
<path d="M480 1340 L490 1180" stroke="#f7b3bb" stroke-width="22"/>
<!-- neck -->
<path d="M720 520 L860 520 L870 620 C830 660 760 660 715 620Z" fill="#f9d3cf"/>
<path d="M720 540 C760 590 820 590 860 545 L862 575 C820 610 760 610 718 575Z" fill="#e8b5b0" opacity=".8"/>
<!-- dark top -->
<path d="M698 612 C740 660 830 660 868 605 L862 700 L780 965 L735 760Z" fill="#3a0b12"/>
<!-- lapels -->
<path d="M700 615 L650 760 L690 790 L660 830 L775 960 L735 760Z" fill="#fbfaea" stroke="#f7b3bb" stroke-width="8" stroke-linejoin="round"/>
<path d="M868 605 L930 740 L885 770 L925 810 L780 965 L860 700Z" fill="#fbfaea" stroke="#f7b3bb" stroke-width="8" stroke-linejoin="round"/>
<!-- face -->
<path d="M680 330 C690 250 760 210 800 215 C860 220 905 280 910 350 C915 430 880 520 800 545 C720 545 675 460 672 390Z" fill="#f9d5d0"/>
<!-- hair -->
<path d="M675 150 C700 95 860 90 885 150 C890 175 880 195 870 205 C920 240 935 320 915 400 C905 450 895 480 885 490 C900 400 880 300 800 250 L760 215 C740 260 700 320 690 400 C680 470 670 500 660 530 C610 480 580 400 600 310 C610 250 640 210 690 200 C675 185 670 170 675 150Z" fill="#3a0b12"/>
<!-- eyes -->
<ellipse cx="712" cy="360" rx="30" ry="22" fill="#141a52"/><ellipse cx="845" cy="360" rx="30" ry="22" fill="#141a52"/>
<path d="M680 345 L745 340 M815 340 L880 345" stroke="#141a52" stroke-width="10" stroke-linecap="round"/>
<path d="M680 318 C700 305 730 305 745 312 M815 312 C830 305 860 305 885 320" fill="none" stroke="#f3b9b5" stroke-width="10"/>
<path d="M745 425 C770 435 790 435 815 425" fill="none" stroke="#3a0b12" stroke-width="9" stroke-linecap="round"/>
<ellipse cx="778" cy="487" rx="48" ry="22" fill="#8f1208"/>
<path d="M735 480 C760 465 800 465 825 480" fill="none" stroke="#5a0a08" stroke-width="6"/>
<!-- stethoscope -->
<path d="M715 535 C650 560 615 680 610 790" fill="none" stroke="#161c55" stroke-width="26" stroke-linecap="round"/>
<path d="M860 525 C930 560 960 680 965 800" fill="none" stroke="#161c55" stroke-width="26" stroke-linecap="round"/>
<circle cx="608" cy="820" r="32" fill="#f0a04a" stroke="#161c55" stroke-width="12"/><circle cx="608" cy="820" r="8" fill="#161c55"/>
<path d="M915 985 C860 940 870 830 935 805 M1000 805 C1060 830 1055 950 990 990" fill="none" stroke="#161c55" stroke-width="24" stroke-linecap="round"/>
<path d="M925 800 L1005 800" stroke="#f0a04a" stroke-width="22"/>
<path d="M945 800 L985 800" stroke="#161c55" stroke-width="24"/>
<circle cx="920" cy="990" r="18" fill="#161c55"/><circle cx="990" cy="992" r="18" fill="#161c55"/>
<!-- badge -->
<rect x="610" y="897" width="110" height="58" fill="#fbd0e2" stroke="#3a2a5a" stroke-width="6"/>
<!-- clipboard -->
<path d="M278 920 L425 868 L735 1290 L590 1340Z" fill="#1a7637"/>
<path d="M425 868 L445 880 L738 1288 L715 1300Z" fill="#141a3a"/>
<path d="M345 925 L395 907" stroke="#141a3a" stroke-width="20" stroke-linecap="round"/>
<path d="M300 930 L420 890 L560 1080 L470 1180Z" fill="#2a8a48" opacity=".5"/>
<!-- hand on clipboard -->
<path d="M520 1000 C500 1040 480 1100 478 1160 C470 1220 500 1280 540 1290 C580 1250 640 1200 650 1160 L600 1090 L580 1065 L520 1090Z" fill="#f8c9c4"/>
<path d="M480 1180 L470 1340 L530 1340 L545 1285Z" fill="#f8c9c4"/>
</g>
</svg>

<svg style="left:120px;top:2100px" width="260" height="160" viewBox="0 0 1624 999">
<defs>
<linearGradient id="pr" x1="0" y1="0" x2="0" y2="1"><stop offset="0" stop-color="#e00808"/><stop offset=".35" stop-color="#c40000"/><stop offset=".7" stop-color="#d80a0a"/><stop offset="1" stop-color="#b80000"/></linearGradient>
<linearGradient id="pb" x1="0" y1="0" x2="0" y2="1"><stop offset="0" stop-color="#2a45f0"/><stop offset=".5" stop-color="#1a2fe0"/><stop offset="1" stop-color="#2a4af5"/></linearGradient>
<linearGradient id="pw" x1="0" y1="0" x2="0" y2="1"><stop offset="0" stop-color="#fff"/><stop offset=".5" stop-color="#f6e4fa"/><stop offset="1" stop-color="#fff"/></linearGradient>
<radialGradient id="pt" cx=".5" cy=".45" r=".55"><stop offset="0" stop-color="#8fd0ff"/><stop offset=".8" stop-color="#7cc6fd"/><stop offset="1" stop-color="#5fb2f5"/></radialGradient>
</defs>
<!-- white/blue capsule -->
<path d="M535 195 L740 195 L740 385 L535 385 A95 95 0 0 1 535 195Z" fill="url(#pw)" stroke="#a9c6ee" stroke-width="5"/>
<path d="M738 205 L915 205 A92 92 0 0 1 915 388 L738 388Z" fill="url(#pb)"/>
<path d="M930 195 A40 40 0 0 1 975 215 L930 215Z" fill="#1a2fe0"/>
<!-- red capsule shadow -->
<ellipse cx="510" cy="605" rx="320" ry="14" fill="#c88" opacity=".35"/>
<rect x="155" y="365" width="705" height="245" rx="122" fill="url(#pr)"/>
<rect x="690" y="368" width="55" height="240" fill="#e81a1a" opacity=".6"/>
<path d="M760 370 C830 380 860 440 858 490 C855 550 820 595 760 608Z" fill="#e62a3a" opacity=".55"/>
<!-- tablet -->
<ellipse cx="1195" cy="738" rx="150" ry="18" fill="#6db8f5" opacity=".7"/>
<circle cx="1195" cy="540" r="200" fill="#58b0f7"/>
<circle cx="1195" cy="538" r="186" fill="url(#pt)"/>
<path d="M1000 545 L1392 545" stroke="#58aef5" stroke-width="26"/>
<path d="M1005 562 L1388 562" stroke="#a5dcff" stroke-width="8" opacity=".8"/>
</svg>

<div class="t" id="m1" style="left:239.5px;top:75.7px;font-size:15.5px;letter-spacing:0.729px;font-weight:bold;transform:scaleX(1.22);color:#2a2a2a;-webkit-text-stroke:1px #2a2a2a;">МИНИСТЕРСТВО</div>
<div class="t" id="m2" style="left:239.5px;top:93.3px;font-size:15.5px;letter-spacing:0.781px;font-weight:bold;transform:scaleX(1.22);color:#2a2a2a;-webkit-text-stroke:1px #2a2a2a;">ЗДРАВООХРАНЕНИЯ</div>
<div class="t" id="m3" style="left:238.5px;top:114.6px;font-size:17px;letter-spacing:1.552px;color:#2a2a2a;-webkit-text-stroke:0.35px #2a2a2a;">РОССИЙСКОЙ ФЕДЕРАЦИИ</div>
<div class="t" id="p1" style="left:1416.0px;top:97.4px;font-size:16px;letter-spacing:0.762px;font-weight:bold;transform:scaleX(1.12);color:#1a1014;-webkit-text-stroke:0.5px #1a1014;">8 800 200 0 200</div>
<div class="t" id="p2" style="left:1401.5px;top:114.5px;font-size:16px;letter-spacing:0.664px;font-weight:bold;transform:scaleX(1.06);color:#1a1014;-webkit-text-stroke:0.5px #1a1014;">TAKZDOROVO.RU</div>
<div class="t" id="t1a" style="left:124.5px;top:216.5px;font-size:84px;letter-spacing:2.711px;font-weight:bold;color:#000;-webkit-text-stroke-width:1px;">ЧТО</div>
<div class="t" id="t1b" style="left:328.5px;top:216.5px;font-size:84px;letter-spacing:1.403px;font-weight:bold;color:#000;-webkit-text-stroke-width:1px;">ДЕЛАТЬ</div>
<div class="t" id="t1c" style="left:701.5px;top:217.0px;font-size:84px;letter-spacing:5.359px;font-weight:bold;color:#000;-webkit-text-stroke-width:1px;">ПРИ</div>
<div class="t" id="t1d" style="left:913.5px;top:216.5px;font-size:84px;letter-spacing:3.958px;font-weight:bold;color:#000;-webkit-text-stroke-width:1px;">ПОДОЗРЕНИИ</div>
<div class="t" id="t2" style="left:463.0px;top:356.3px;font-size:52px;letter-spacing:1.049px;font-weight:bold;color:#000;-webkit-text-stroke-width:0.5px;">НА ЗАРАЖЕНИЕ ВИРУСОМ <span class="r">ГЕПАТИТА С</span></div>
<div class="t" id="t3" style="left:463.0px;top:421.0px;font-size:52px;letter-spacing:1.241px;font-weight:bold;color:#000;-webkit-text-stroke-width:0.5px;">ИЛИ ВЫЯВЛЕНИИ АНТИТЕЛ К ВИРУСУ</div>
<div class="t" id="h1" style="left:538.5px;top:619.6px;font-size:36px;letter-spacing:0.470px;font-weight:bold;">КАК ВЫЯВИТЬ ЗАБОЛЕВАНИЕ?</div>
<div class="t b28" id="b1" style="left:422.0px;top:673.9px;font-size:28px;letter-spacing:1.273px;"><span class="r" style="letter-spacing:0px">Гепатит С</span> можно выявить только с помощью специальных</div>
<div class="t b28" id="b2" style="left:385.0px;top:710.8px;font-size:28px;letter-spacing:1.278px;">исследований, которые условно можно разделить на <span class="r" style="letter-spacing:1.3px">3 группы:</span></div>
<div class="t b28" id="c11" style="left:214.0px;top:987.7px;font-size:28px;letter-spacing:1.420px;">анализы крови, которые</div>
<div class="t b28" id="c12" style="left:175.0px;top:1024.8px;font-size:28px;letter-spacing:1.143px;">указывают на инфицирование</div>
<div class="t b28" id="c13" style="left:156.5px;top:1061.9px;font-size:28px;letter-spacing:1.222px;">вирусом в настоящее время или</div>
<div class="t b28" id="c14" style="left:215.0px;top:1098.9px;font-size:28px;letter-spacing:1.423px;">на ранее перенесенный</div>
<div class="t b28" id="c15" style="left:322.5px;top:1135.7px;font-size:28px;letter-spacing:1.240px;color:#ff2626;">гепатит С</div>
<div class="t b28" id="c21" style="left:719.0px;top:983.8px;font-size:28px;letter-spacing:1.536px;">анализы крови,</div>
<div class="t b28" id="c22" style="left:697.5px;top:1020.3px;font-size:28px;letter-spacing:1.327px;">которые отражают</div>
<div class="t b28" id="c23" style="left:686.0px;top:1056.8px;font-size:28px;letter-spacing:1.524px;">воспаление печени,</div>
<div class="t b28" id="c24" style="left:709.0px;top:1093.3px;font-size:28px;letter-spacing:1.186px;">а также функцию</div>
<div class="t b28" id="c25" style="left:777.0px;top:1129.8px;font-size:28px;letter-spacing:2.084px;">печени</div>
<div class="t b28" id="c31" style="left:1032.0px;top:987.8px;font-size:28px;letter-spacing:1.211px;">исследования, которые помогают</div>
<div class="t b28" id="c32" style="left:1013.0px;top:1024.5px;font-size:28px;letter-spacing:1.201px;">оценить размеры печени, состояние</div>
<div class="t b28" id="c33" style="left:1016.5px;top:1061.2px;font-size:28px;letter-spacing:1.313px;">ее ткани и других органов брюшной</div>
<div class="t b28" id="c34" style="left:1111.5px;top:1097.8px;font-size:28px;letter-spacing:1.058px;">полости (УЗИ и другие</div>
<div class="t b28" id="c35" style="left:1028.0px;top:1134.3px;font-size:28px;letter-spacing:1.018px;">инструментальные исследования).</div>
<div class="t" id="h21" style="left:370.0px;top:1281.2px;font-size:36px;letter-spacing:1.098px;font-weight:bold;">ЧТО ДЕЛАТЬ ПРИ ПОДОЗРЕНИИ НА ЗАРАЖЕНИЕ</div>
<div class="t" id="h22" style="left:439.5px;top:1328.5px;font-size:36px;letter-spacing:1.072px;font-weight:bold;">ВИРУСОМ <span class="r">ГЕПАТИТА С</span> ИЛИ ВЫЯВЛЕНИИ</div>
<div class="t" id="h23" style="left:634.0px;top:1374.5px;font-size:36px;letter-spacing:0.824px;font-weight:bold;">АНТИТЕЛ К ВИРУСУ?</div>
<div class="t b28" id="d1" style="left:141.5px;top:1667.6px;font-size:28px;letter-spacing:1.253px;">Если есть обоснованные подозрения на заражение вирусом</div>
<div class="t b28" id="d2" style="left:190.0px;top:1703.5px;font-size:28px;letter-spacing:1.114px;"><span class="r" style="letter-spacing:0.75px">гепатита С</span>, а также, если в результате лабораторного</div>
<div class="t b28" id="d3" style="left:138.5px;top:1739.7px;font-size:28px;letter-spacing:1.446px;">исследования обнаружены <span class="r">антитела</span> к вирусу <span class="r">гепатита С</span> или</div>
<div class="t b28" id="d4" style="left:157.0px;top:1775.9px;font-size:28px;letter-spacing:1.509px;"><span class="r" style="letter-spacing:1.35px">рибонуклеиновую кислоту</span> вируса <span class="r">гепатита С</span>, необходимо</div>
<div class="t b28" id="d5" style="left:236.0px;top:1812.4px;font-size:28px;letter-spacing:1.245px;">сразу обратиться в медицинскую организацию.</div>
<div class="t b28" id="e1" style="left:1138.0px;top:1666.5px;font-size:28px;letter-spacing:1.205px;">Врач примет решение</div>
<div class="t b28" id="e2" style="left:1173.5px;top:1703.2px;font-size:28px;letter-spacing:1.180px;">о необходимости</div>
<div class="t b28" id="e3" style="left:1094.5px;top:1739.2px;font-size:28px;letter-spacing:1.374px;">дальнейшего обследования</div>
<div class="t b28" id="e4" style="left:1218.0px;top:1775.3px;font-size:28px;letter-spacing:1.210px;">и лечения.</div>
<div class="t" id="h31" style="left:606.5px;top:1964.7px;font-size:36px;letter-spacing:1.078px;font-weight:bold;">МОЖНО ЛИ ВЫЛЕЧИТЬ</div>
<div class="t" id="h32" style="left:565.5px;top:2011.4px;font-size:36px;letter-spacing:1.432px;font-weight:bold;">ХРОНИЧЕСКИЙ <span class="r" style="letter-spacing:-0.15px">ГЕПАТИТ С?</span></div>
<div class="t b28" id="f1" style="left:411.0px;top:2103.2px;font-size:28px;letter-spacing:1.317px;"><span class="r">Гепатит С</span> уже многие годы является излечимым заболеванием!</div>
<div class="t b28" id="f2" style="left:411.0px;top:2136.9px;font-size:28px;letter-spacing:1.281px;">Прием курса специальных противовирусных препаратов приводит к полному</div>
<div class="t b28" id="f3" style="left:413.0px;top:2170.8px;font-size:28px;letter-spacing:1.337px;">удалению вируса из организма человека и выздоровлению от <span class="r">гепатита С.</span></div>
<div class="t b28" id="f4" style="left:413.0px;top:2203.8px;font-size:28px;letter-spacing:1.143px;">Лечение является безопасным, его могут получать даже дети с 3 лет.</div>
</body>
</html>
